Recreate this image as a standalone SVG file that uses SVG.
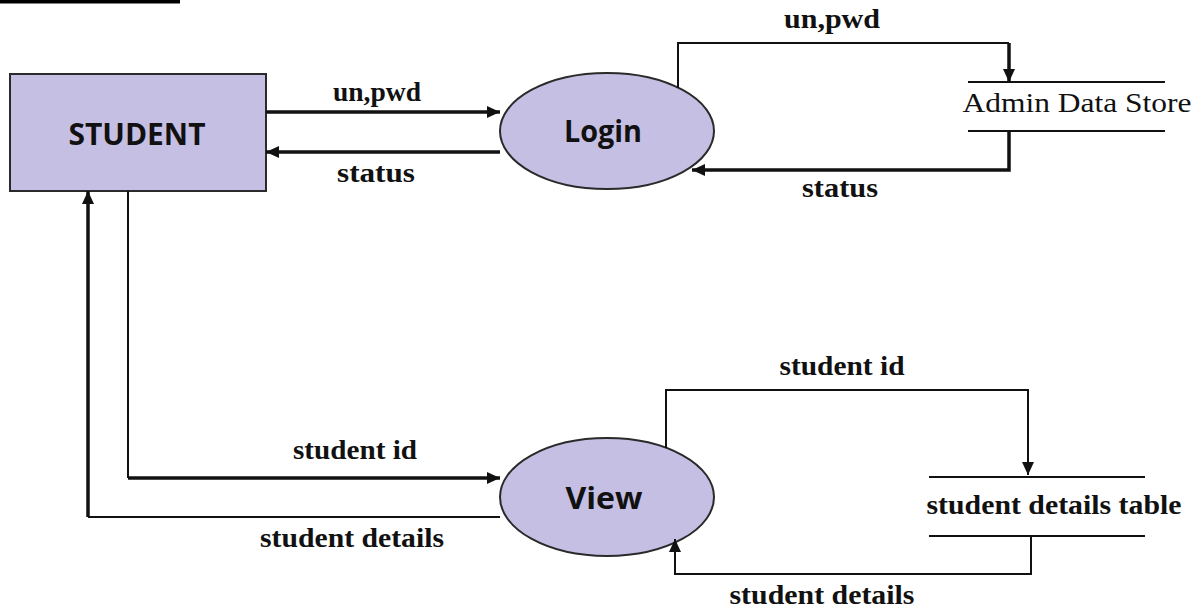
<svg xmlns="http://www.w3.org/2000/svg" width="1203" height="610" viewBox="0 0 1203 610">
<style>
.ent{fill:#c6bfe4;stroke:#2a2a2a;stroke-width:2}
.proc{fill:#c6bfe4;stroke:#2a2a2a;stroke-width:2}
.sans{font-family:"Open Sans","DejaVu Sans",sans-serif;font-weight:bold;fill:#111;text-anchor:middle}
.lbl{font-family:"Liberation Serif","Times New Roman",serif;font-weight:bold;font-size:27px;fill:#111;text-anchor:middle}
.store{font-family:"Liberation Serif","Times New Roman",serif;font-size:28px;fill:#111;text-anchor:middle}
.thin{fill:none;stroke:#111;stroke-width:2}
.thick{fill:none;stroke:#111;stroke-width:3.5}
.sline{stroke:#111;stroke-width:2}
</style>
<defs>
<marker id="ah" markerUnits="userSpaceOnUse" markerWidth="14" markerHeight="12" refX="13" refY="6" orient="auto">
<path d="M0,0 L13,6 L0,12 z" fill="#111"/>
</marker>
</defs>
<rect x="0" y="0" width="180" height="3.5" fill="#000"/>
<g id="student">
<rect class="ent" x="10" y="74" width="256" height="117"/>
<text class="sans" x="137" y="145" font-size="30" textLength="137" lengthAdjust="spacingAndGlyphs">STUDENT</text>
</g>
<g id="login">
<ellipse class="proc" cx="607" cy="131" rx="107" ry="58"/>
<text class="sans" x="603" y="142" font-size="30" textLength="78" lengthAdjust="spacingAndGlyphs">Login</text>
</g>
<g id="view">
<ellipse class="proc" cx="607" cy="497" rx="107" ry="59"/>
<text class="sans" x="604" y="509" font-size="30" textLength="77" lengthAdjust="spacingAndGlyphs">View</text>
</g>
<g id="admin-store">
<line class="sline" x1="968" y1="82" x2="1165" y2="82"/>
<line class="sline" x1="968" y1="131" x2="1165" y2="131"/>
<text class="store" x="1077" y="112" textLength="229" lengthAdjust="spacingAndGlyphs">Admin Data Store</text>
</g>
<g id="details-table">
<line class="sline" x1="929" y1="477" x2="1145" y2="477"/>
<line class="sline" x1="929" y1="536" x2="1145" y2="536"/>
<text class="lbl" x="1054" y="514" textLength="255" lengthAdjust="spacingAndGlyphs">student details table</text>
</g>
<g id="connectors">
<path class="thick" d="M266,112 H500" marker-end="url(#ah)"/>
<path class="thick" d="M500,152 H266" marker-end="url(#ah)"/>
<path class="thin" d="M678,88 V43 H1009"/>
<path class="thick" d="M1009,43 V82" marker-end="url(#ah)"/>
<path class="thick" d="M1009,131 V170 H692" marker-end="url(#ah)"/>
<path class="thin" d="M128,191 V478"/>
<path class="thick" d="M128,478 H500" marker-end="url(#ah)"/>
<path class="thin" d="M500,517 H88"/>
<path class="thick" d="M88,517 V191" marker-end="url(#ah)"/>
<path class="thin" d="M666,448 V390 H1028 V475" marker-end="url(#ah)"/>
<path class="thin" d="M1031,536 V574 H675 V539" marker-end="url(#ah)"/>
<text class="lbl" x="377" y="101" textLength="88" lengthAdjust="spacingAndGlyphs">un,pwd</text>
<text class="lbl" x="376" y="182" textLength="78" lengthAdjust="spacingAndGlyphs">status</text>
<text class="lbl" x="832" y="28" textLength="96" lengthAdjust="spacingAndGlyphs">un,pwd</text>
<text class="lbl" x="840" y="197" textLength="76" lengthAdjust="spacingAndGlyphs">status</text>
<text class="lbl" x="355" y="459" textLength="124" lengthAdjust="spacingAndGlyphs">student id</text>
<text class="lbl" x="352" y="547" textLength="184" lengthAdjust="spacingAndGlyphs">student details</text>
<text class="lbl" x="842" y="375" textLength="125" lengthAdjust="spacingAndGlyphs">student id</text>
<text class="lbl" x="822" y="604" textLength="185" lengthAdjust="spacingAndGlyphs">student details</text>
</g>
</svg>
